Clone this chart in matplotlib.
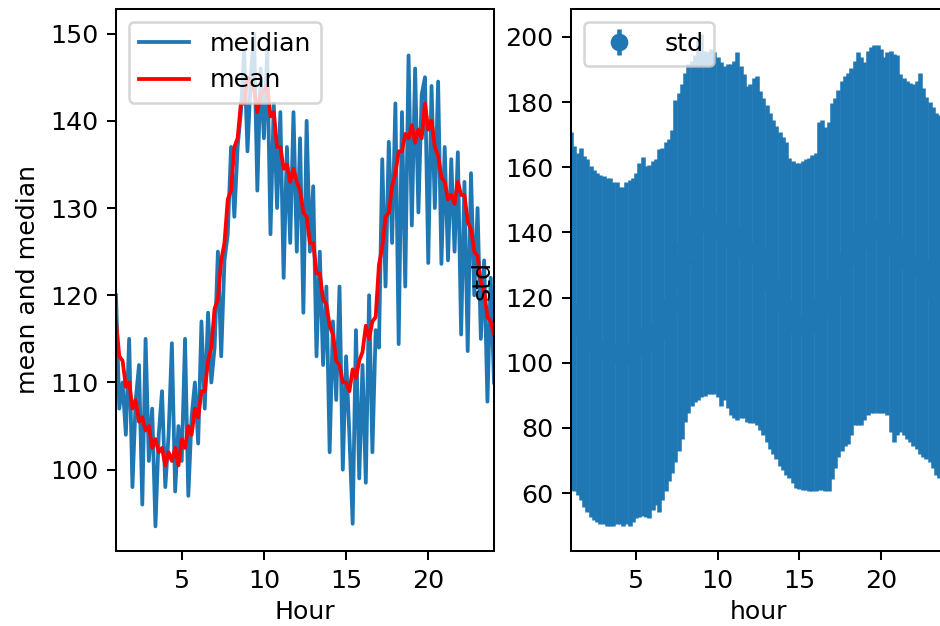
import numpy as np
import matplotlib
matplotlib.use("Agg")
import matplotlib.pyplot as plt

# hour grid (0.2 h steps, 1 .. 24)
hours = np.round(np.arange(1.0, 24.01, 0.2), 1)
hour_ticks = [5, 10, 15, 20]

# left panel: median / mean per hour
median_vals = [
    120, 107, 110, 104, 115, 98, 108, 112, 96, 115,
    101, 107, 93.5, 104, 109, 98, 104, 114.5, 97.5, 105,
    101, 115, 97, 106, 110, 103, 117, 107, 118, 110,
    114, 125, 113, 124, 127, 137, 129, 137, 141, 148,
    136.5, 145, 150, 132, 146, 138, 148, 127, 142, 130,
    141, 122, 137, 126, 141, 125, 138, 118, 140, 125,
    132.5, 113, 125, 112, 121, 102, 117, 108, 121, 100,
    113, 104, 93.8, 116, 99, 112, 98.5, 120, 102, 116,
    114, 135.6, 121, 137.6, 126, 142, 114.4, 141, 121, 147.5,
    128, 146, 129.5, 143, 145, 123.7, 144, 130, 144.5, 123.6,
    137, 124, 135.6, 125, 136.4, 115.5, 133, 113.6, 134, 120,
    130, 115, 124, 107.8, 122, 110,
]
mean_vals = [
    117, 113, 112.5, 109.5, 110, 107, 108, 105.5, 106, 104.5,
    105, 102.5, 103.5, 102, 102.5, 100.5, 102, 101, 102.5, 100.5,
    103.5, 102.5, 105, 104, 107, 106, 109, 109, 112.5, 114,
    118.5, 119.5, 124, 126, 131, 132, 137, 138, 142, 142,
    145, 144.5, 143.5, 141, 143, 143.5, 144, 140.5, 141, 137,
    137, 134.5, 135, 133, 134.5, 133, 132, 129.5, 129, 126,
    126, 122.5, 122.5, 119.5, 119, 116.5, 115.5, 112.5, 112, 110,
    110, 109, 111.5, 110.5, 112.5, 113.5, 116.5, 115, 117, 117.5,
    123.5, 125.5, 129, 129.5, 132.5, 134, 136.5, 136.5, 138.5, 138,
    139.5, 137.5, 139, 138, 142, 139, 140, 137, 136, 133.5,
    133, 131, 131.5, 130.5, 133, 131.5, 131.5, 128.5, 127.5, 125,
    124.5, 121.5, 120.5, 117.5, 117, 115.5,
]

# right panel: top / bottom of the error bars (value +- std)
band_top = [
    170.7, 166.6, 164.5, 166.0, 163.4, 162.4, 160.3, 159.2, 158.2, 157.7,
    157.2, 156.6, 156.6, 155.6, 155.6, 154.0, 154.0, 155.6, 156.1, 156.6,
    158.2, 161.3, 163.2, 160.3, 160.8, 161.9, 162.4, 165.5, 166.0, 167.6,
    168.7, 171.3, 180.7, 182.8, 185.4, 189.0, 191.6, 192.7, 194.3, 199.0,
    201.0, 195.8, 195.3, 196.3, 195.3, 193.7, 192.2, 191.1, 191.6, 191.6,
    192.7, 195.3, 191.1, 188.5, 184.8, 185.4, 187.5, 188.0, 183.3, 181.2,
    179.1, 176.5, 174.4, 172.8, 170.7, 169.2, 167.6, 162.9, 161.9, 161.3,
    161.3, 161.9, 162.4, 162.9, 163.9, 164.5, 173.9, 174.4, 172.3, 173.9,
    179.6, 181.2, 183.8, 186.4, 188.0, 189.0, 190.6, 192.7, 195.3, 193.7,
    192.2, 195.8, 196.9, 197.4, 197.4, 196.3, 193.7, 195.3, 195.8, 194.8,
    194.3, 188.5, 187.5, 186.4, 185.9, 185.4, 186.4, 189.0, 184.3, 181.7,
    180.1, 178.6, 176.5, 176.0, 173.9, 171.8,
]
band_bottom = [
    61.0, 60.5, 59.4, 57.9, 55.8, 54.2, 52.7, 51.6, 51.1, 50.6,
    50.6, 50.0, 49.8, 50.0, 50.6, 50.6, 50.0, 50.6, 49.8, 51.1,
    52.4, 52.7, 53.1, 52.7, 52.4, 54.7, 56.3, 54.2, 57.9, 60.5,
    63.6, 66.2, 69.4, 73.0, 76.7, 81.9, 84.5, 86.6, 88.0, 88.7,
    89.5, 89.7, 90.3, 90.5, 90.3, 89.5, 86.6, 88.6, 86.1, 84.0,
    83.0, 82.4, 83.0, 83.1, 81.9, 81.5, 81.4, 80.9, 79.3, 77.7,
    75.6, 73.6, 72.0, 70.4, 68.3, 67.0, 65.7, 64.7, 63.1, 61.5,
    61.2, 61.0, 61.0, 60.8, 60.5, 60.5, 61.0, 61.0, 60.8, 60.5,
    64.2, 67.8, 71.2, 73.0, 74.4, 75.1, 77.7, 80.9, 80.9, 80.9,
    82.4, 84.0, 84.5, 84.7, 84.7, 84.7, 84.5, 84.0, 78.8, 75.6,
    77.7, 78.8, 77.7, 76.7, 75.6, 74.6, 73.4, 72.0, 71.2, 70.4,
    69.4, 67.8, 65.7, 64.7, 63.1, 62.0,
]

W, H = 940, 626
DPI = 182  # reference looks like a default figure blown up ~1.25x
fig = plt.figure(figsize=(W / DPI, H / DPI), dpi=DPI)
ax1 = fig.add_axes([116 / W, 75 / H, 378 / W, 542 / H])
ax2 = fig.add_axes([571 / W, 75 / H, 375 / W, 542 / H])  # runs past the right edge, like the reference

# mean / median
ax1.plot(hours, median_vals, label="meidian")
ax1.plot(hours, mean_vals, color="red", label="mean")
ax1.set_xlim(1, 24)
ax1.set_xticks(hour_ticks)
ax1.set_xlabel("Hour", labelpad=3)
ax1.set_ylabel("mean and median")
ax1.legend(loc="upper left")

# std as error bars
top = np.array(band_top)
bot = np.array(band_bottom)
ax2.errorbar(hours, (top + bot) / 2, yerr=(top - bot) / 2, fmt="o",
             elinewidth=1.8, label="std")
ax2.set_xlim(1, 24)
ax2.set_xticks(hour_ticks)
ax2.set_xlabel("hour", labelpad=3)
ax2.set_ylabel("std")
ax2.legend(loc="upper left")

fig.savefig("out.png", dpi=DPI)
